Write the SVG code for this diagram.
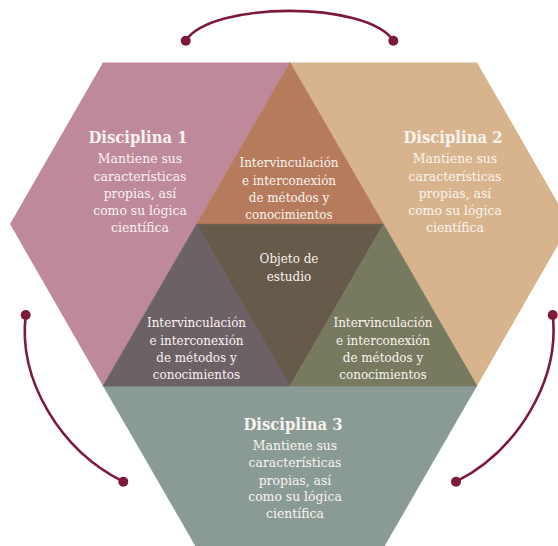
<svg xmlns="http://www.w3.org/2000/svg" width="558" height="546" viewBox="0 0 558 546">
<style>
text{font-family:"DejaVu Serif Condensed","DejaVu Serif","Liberation Serif",serif;fill:#FAF4EF;text-anchor:middle}
.t{font-size:16.5px;font-weight:bold}
.b{font-size:13.8px}
.c{font-size:13.3px}
.tri{stroke-width:0.8;stroke-linejoin:round}
.arc{fill:none;stroke:#7D1A3C;stroke-width:2.6}
.dot{fill:#7D1A3C}
</style>
<rect width="558" height="546" fill="#FFFFFF"/>
<g id="disciplina1">
<polygon points="103,62.5 290,62.5 103,386 10,224" fill="#BF899C"/>
<text class="t" x="138" y="143">Disciplina 1</text>
<text class="b" x="140" y="163">Mantiene sus</text>
<text class="b" x="140" y="180.5">características</text>
<text class="b" x="140" y="197.8">propias, así</text>
<text class="b" x="140" y="215">como su lógica</text>
<text class="b" x="140" y="232.3">científica</text>
</g>
<g id="disciplina2">
<polygon points="290,62.5 477,62.5 570,224 477,386" fill="#D8B48E"/>
<text class="t" x="453" y="143">Disciplina 2</text>
<text class="b" x="455" y="163">Mantiene sus</text>
<text class="b" x="455" y="180.5">características</text>
<text class="b" x="455" y="197.8">propias, así</text>
<text class="b" x="455" y="215">como su lógica</text>
<text class="b" x="455" y="232.3">científica</text>
</g>
<g id="disciplina3">
<polygon points="103,386 477,386 383.5,548 196.5,548" fill="#8A9B96"/>
<text class="t" x="293" y="430">Disciplina 3</text>
<text class="b" x="295" y="450">Mantiene sus</text>
<text class="b" x="295" y="467.3">características</text>
<text class="b" x="295" y="484.6">propias, así</text>
<text class="b" x="295" y="501.3">como su lógica</text>
<text class="b" x="295" y="518">científica</text>
</g>
<g id="interseccion12">
<polygon class="tri" points="290,62.5 383.5,224.3 196.5,224.3" fill="#B67B5D" stroke="#B67B5D"/>
<text class="c" x="289" y="167.3">Intervinculación</text>
<text class="c" x="289" y="184.8">e interconexión</text>
<text class="c" x="289" y="202.1">de métodos y</text>
<text class="c" x="289" y="219">conocimientos</text>
</g>
<g id="objeto">
<polygon class="tri" points="196.5,224.3 383.5,224.3 290,386" fill="#665A4A" stroke="#665A4A"/>
<text class="c" x="289" y="263.3">Objeto de</text>
<text class="c" x="289" y="280.7">estudio</text>
</g>
<g id="interseccion13">
<polygon class="tri" points="196.5,224.3 290,386 103,386" fill="#6D6168" stroke="#6D6168"/>
<text class="c" x="196.5" y="327.3">Intervinculación</text>
<text class="c" x="196.5" y="344.6">e interconexión</text>
<text class="c" x="196.5" y="361.9">de métodos y</text>
<text class="c" x="196.5" y="378.8">conocimientos</text>
</g>
<g id="interseccion23">
<polygon class="tri" points="383.5,224.3 477,386 290,386" fill="#787A60" stroke="#787A60"/>
<text class="c" x="383" y="327.3">Intervinculación</text>
<text class="c" x="383" y="344.6">e interconexión</text>
<text class="c" x="383" y="361.9">de métodos y</text>
<text class="c" x="383" y="378.8">conocimientos</text>
</g>
<g id="connectors">
<path class="arc" d="M185.7,40.7 C212,1 367,1 393.3,40.7"/>
<circle class="dot" cx="185.7" cy="40.7" r="5"/>
<circle class="dot" cx="393.3" cy="40.7" r="5"/>
<path class="arc" d="M25.7,315 C18,380 60,450 123.3,481.7"/>
<circle class="dot" cx="25.7" cy="315" r="5"/>
<circle class="dot" cx="123.3" cy="481.7" r="5"/>
<path class="arc" d="M552.7,315 C560,380 518,450 456,481.7"/>
<circle class="dot" cx="552.7" cy="315" r="5"/>
<circle class="dot" cx="456" cy="481.7" r="5"/>
</g>
</svg>
